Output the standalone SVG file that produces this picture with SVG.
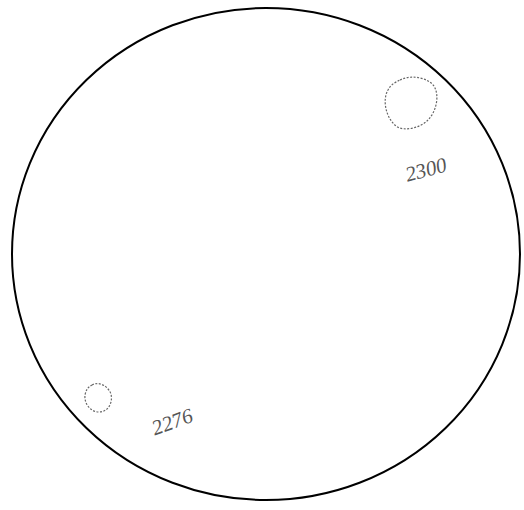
<svg xmlns="http://www.w3.org/2000/svg" width="524" height="510" viewBox="0 0 524 510">
<style>
.blob{fill:none;stroke:#666;stroke-width:1.2;stroke-dasharray:2 1.5}
.lbl{font-family:"Liberation Serif",serif;font-style:italic;font-size:21px;fill:#555}
</style>
<rect width="524" height="510" fill="#fff"/>
<g id="outer">
<ellipse cx="266" cy="254" rx="254" ry="246" fill="none" stroke="#000" stroke-width="2"/>
</g>
<g id="n2300">
<path class="blob" d="M400 80 C412 74,428 78,434 86 C440 96,436 112,428 120 C420 128,404 132,396 126 C386 118,382 100,388 90 C391 84,396 82,400 80 Z"/>
<text class="lbl" x="404" y="176" transform="rotate(-15 428 166)">2300</text>
</g>
<g id="n2276">
<path class="blob" d="M92 385 C99 381,108 386,111 394 C113 403,108 412,99 412 C90 412,84 403,85 395 C86 390,88 387,92 385 Z"/>
<text class="lbl" x="150" y="428" transform="rotate(-20 174 418)">2276</text>
</g>
</svg>
